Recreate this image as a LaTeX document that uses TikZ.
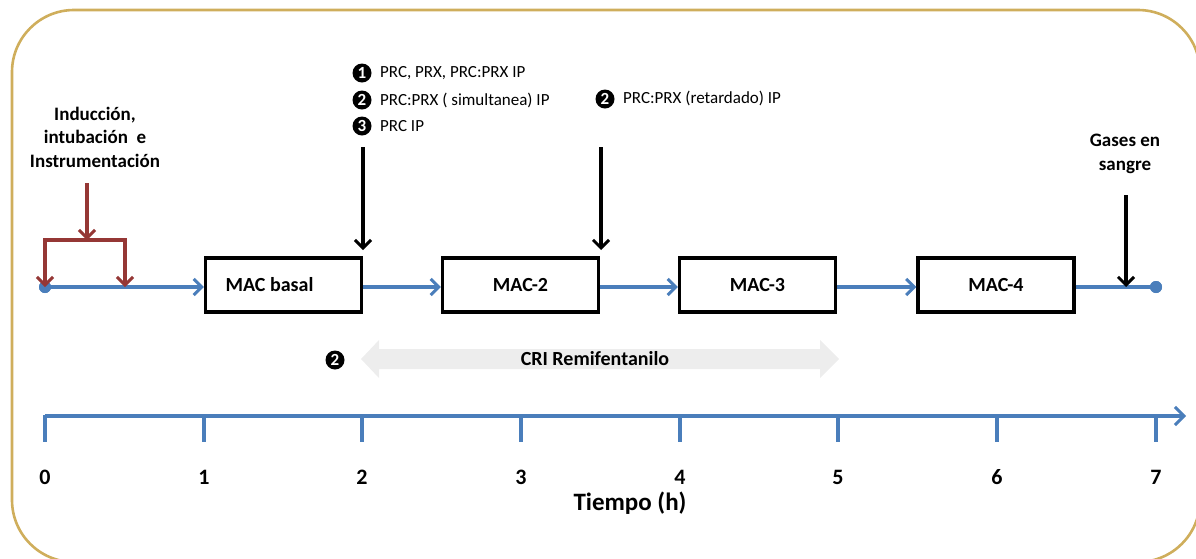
\documentclass[tikz,border=0pt]{standalone}
\usepackage{fontspec}
\setmainfont{Carlito}
\usetikzlibrary{arrows.meta}
\definecolor{flowblue}{HTML}{4A7EBB}
\definecolor{darkred}{HTML}{953735}
\definecolor{framegold}{HTML}{CFAE5C}
\definecolor{crigray}{HTML}{EDEDED}
\tikzset{
  macbox/.style={draw=black, line width=3.4pt, minimum width=156pt, minimum height=54pt, inner sep=0pt, font=\bfseries\fontsize{20}{24}\selectfont},
  flow/.style={draw=flowblue, line width=3.2pt},
  flowarrow/.style={flow, -{Straight Barb[length=8pt,width=16pt,line width=3pt]}},
  redarrow/.style={draw=darkred, line width=3.2pt, -{Straight Barb[length=8pt,width=16pt,line width=3pt]}},
  blkarrow/.style={draw=black, line width=3.2pt, -{Straight Barb[length=8pt,width=16pt,line width=3pt]}},
  bullet/.style={circle, fill=black, text=white, inner sep=0pt, minimum size=19pt, font=\bfseries\fontsize{17}{17}\selectfont},
  smalltxt/.style={anchor=west, inner sep=0pt, font=\fontsize{17}{20}\selectfont},
  boldlbl/.style={align=center, font=\bfseries\fontsize{19}{23.5}\selectfont},
  numlbl/.style={font=\bfseries\fontsize{22}{24}\selectfont},
  tick/.style={draw=flowblue, line width=3.2pt},
  dot/.style={circle, fill=flowblue, inner sep=0pt, minimum size=12pt}
}
\begin{document}
\begin{tikzpicture}[x=1pt,y=-1pt]
\useasboundingbox (0,0) rectangle (1196,558);
% frame
\draw[framegold, line width=2.6pt, rounded corners=62pt] (12,10) rectangle (1200,562);

% main flow
\node[dot] (start) at (45,287) {};
\node[dot] (end) at (1156,287) {};
\node[macbox] (mac1) at (283.5,285) {\hspace*{-28pt}MAC basal};
\node[macbox] (mac2) at (520.5,285) {MAC-2};
\node[macbox] (mac3) at (757.5,285) {MAC-3};
\node[macbox] (mac4) at (996,285) {MAC-4};
\draw[flowarrow] (start.center) -- (mac1.west |- start);
\draw[flowarrow] (mac1.east |- start) -- (mac2.west |- start);
\draw[flowarrow] (mac2.east |- start) -- (mac3.west |- start);
\draw[flowarrow] (mac3.east |- start) -- (mac4.west |- start);
\draw[flow] (mac4.east |- start) -- (end.center);
\node[dot] at (start) {};
\node[dot] at (end) {};

% red bracket
\node[boldlbl] (induc) at (95,137) {Inducción,\\intubación~ e\\Instrumentación};
\coordinate (rtop) at (87,183);
\coordinate (rmid) at (87,240);
\coordinate (rl) at (45,240);
\coordinate (rr) at (125,240);
\coordinate (rlb) at (45,287);
\coordinate (rrb) at (125,287);
\draw[redarrow] (rtop) -- (rmid);
\draw[draw=darkred, line width=3.2pt, line cap=rect] (rl) -- (rr);
\draw[redarrow] (rl) -- (rlb);
\draw[redarrow] (rr) -- (rrb);

% black arrows
\coordinate (a1s) at (363,147);
\coordinate (a1e) at (363,250);
\draw[blkarrow] (a1s) -- (a1e);
\coordinate (a2s) at (601,147);
\coordinate (a2e) at (601,250);
\draw[blkarrow] (a2s) -- (a2e);
\node[boldlbl] (gases) at (1125,154) {Gases en\\sangre};
\coordinate (g1s) at (1126,195);
\coordinate (g1e) at (1126,287);
\draw[blkarrow] (g1s) -- (g1e);

% bullet notes
\node[bullet] (b1) at (362,73) {1};
\node[smalltxt] (t1) at (380,73) {PRC, PRX, PRC:PRX IP};
\node[bullet] (b2) at (362,100) {2};
\node[smalltxt] (t2) at (380,100) {PRC:PRX ( simultanea) IP};
\node[bullet] (b3) at (362,126) {3};
\node[smalltxt] (t3) at (380,126) {PRC IP};
\node[bullet] (b4) at (605,99) {2};
\node[smalltxt] (t4) at (623,98) {PRC:PRX (retardado) IP};

% CRI arrow
\fill[crigray] (361,359) -- (379,340) -- (379,349) -- (820,349) -- (820,340) -- (839,359) -- (820,378) -- (820,369) -- (379,369) -- (379,378) -- cycle;
\node[font=\bfseries\fontsize{20}{24}\selectfont] (cri) at (595,359) {CRI Remifentanilo};
\node[bullet] (b5) at (335,360) {2};

% time axis
\coordinate (ax0) at (45,416);
\coordinate (axe) at (1186,416);
\draw[flow, -{Straight Barb[length=9pt,width=18pt,line width=3pt]}] (ax0) -- (axe);
\foreach \x/\n in {45/0,204/1,362/2,521/3,680/4,838/5,997/6,1156/7}{
  \draw[tick] (\x,415) -- (\x,442);
  \node[numlbl] (n\n) at (\x,477) {\n};
}
\node[font=\bfseries\fontsize{25}{28}\selectfont] (tiempo) at (630,503) {Tiempo (h)};
\end{tikzpicture}
\end{document}
